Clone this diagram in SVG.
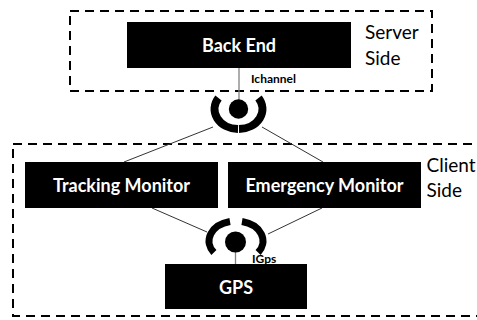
<svg xmlns="http://www.w3.org/2000/svg" width="477" height="320" viewBox="0 0 477 320">
<style>
.bound{fill:none;stroke:#000;stroke-width:2;stroke-dasharray:9 6}
.node{fill:#000}
.lbl{font-family:Lato,"Liberation Sans",sans-serif;font-weight:bold;font-size:18px;fill:#fff;text-anchor:middle}
.side{font-family:Lato,"Liberation Sans",sans-serif;font-size:19px;fill:#000}
.iface{font-family:Lato,"Liberation Sans",sans-serif;font-weight:bold;font-size:12px;fill:#000}
.conn{stroke:#333;stroke-width:1;fill:none}
.stub{stroke:#808080;stroke-width:1.3;fill:none}
.sock{fill:none;stroke:#000;stroke-width:8;stroke-linecap:butt}
</style>
<g id="server-boundary">
<rect class="bound" x="70" y="11" width="362" height="80"/>
<text class="side" x="365" y="39">Server</text>
<text class="side" x="365" y="65">Side</text>
</g>
<g id="client-boundary">
<rect class="bound" x="13" y="144" width="480" height="172"/>
<text class="side" x="426.5" y="172">Client</text>
<text class="side" x="426.5" y="197">Side</text>
</g>
<g id="connectors">
<line class="stub" x1="239" y1="68" x2="239" y2="105"/>
<line class="conn" x1="213" y1="127" x2="124" y2="162"/>
<line class="conn" x1="262" y1="127" x2="323" y2="162"/>
<line class="conn" x1="152" y1="208" x2="207" y2="232"/>
<line class="conn" x1="322" y1="208" x2="268" y2="234"/>
<line class="stub" x1="235.5" y1="248" x2="235.5" y2="264"/>
</g>
<g id="back-end">
<rect class="node" x="127" y="22" width="224" height="46"/>
<text class="lbl" x="239" y="52">Back End</text>
</g>
<g id="ichannel">
<circle cx="238.5" cy="109" r="9.7"/>
<path class="sock" d="M218.5,98 A24 20 0 0 0 238,129"/>
<path class="sock" d="M258.5,98 A24 20 0 0 1 239,129"/>
<text class="iface" x="251" y="83">Ichannel</text>
</g>
<g id="tracking-monitor">
<rect class="node" x="25" y="162" width="193" height="46"/>
<text class="lbl" x="121.5" y="192">Tracking Monitor</text>
</g>
<g id="emergency-monitor">
<rect class="node" x="228" y="162" width="193" height="46"/>
<text class="lbl" x="324.5" y="192">Emergency Monitor</text>
</g>
<g id="igps">
<circle cx="235.5" cy="242" r="10.5"/>
<path class="sock" style="stroke-width:7" d="M230,221.5 A27 20 0 0 0 213.9,252.5"/>
<path class="sock" style="stroke-width:7" d="M242,221.5 A27 20 0 0 1 258.1,252.5"/>
<text class="iface" x="252" y="263">IGps</text>
</g>
<g id="gps">
<rect class="node" x="165" y="264" width="142" height="45"/>
<text class="lbl" x="236" y="294">GPS</text>
</g>
</svg>
